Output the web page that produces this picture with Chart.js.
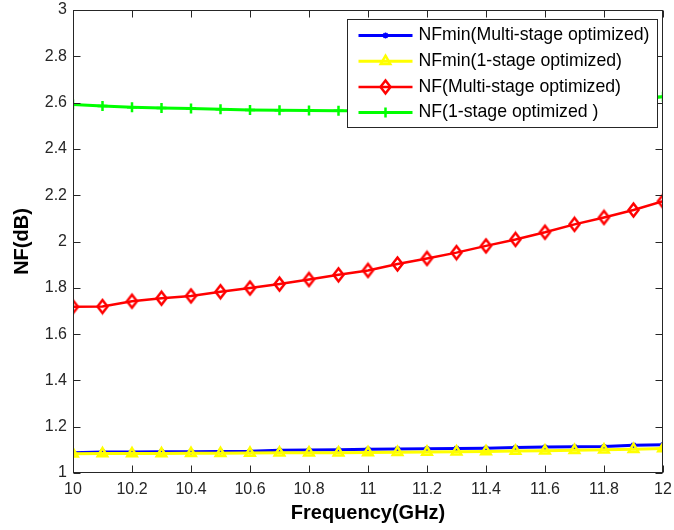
<!DOCTYPE html>
<html>
<head>
<meta charset="utf-8">
<title>NF vs Frequency</title>
<script src="https://cdn.jsdelivr.net/npm/chart.js@4.4.0/dist/chart.umd.min.js"></script>
<style>
  body { margin: 0; background: #fff; }
  #wrap { width: 674px; height: 530px; }
</style>
</head>
<body>
<div id="wrap"><canvas id="nfChart" width="674" height="530"></canvas></div>
<script>
const freqGHz = [10, 10.1, 10.2, 10.3, 10.4, 10.5, 10.6, 10.7, 10.8, 10.9, 11,
                 11.1, 11.2, 11.3, 11.4, 11.5, 11.6, 11.7, 11.8, 11.9, 12];
const nfminMulti = [1.087, 1.091, 1.091, 1.092, 1.092, 1.093, 1.094, 1.098, 1.099, 1.100, 1.103,
                    1.104, 1.105, 1.106, 1.107, 1.110, 1.112, 1.113, 1.114, 1.120, 1.122];
const nfminSingle = [1.083, 1.084, 1.084, 1.084, 1.085, 1.085, 1.086, 1.087, 1.088, 1.088, 1.089,
                     1.090, 1.091, 1.092, 1.093, 1.095, 1.096, 1.098, 1.100, 1.103, 1.106];
const nfMulti = [1.718, 1.719, 1.742, 1.755, 1.765, 1.783, 1.799, 1.816, 1.836, 1.856, 1.875,
                 1.903, 1.927, 1.952, 1.981, 2.009, 2.040, 2.074, 2.104, 2.136, 2.174];
const nfSingle = [2.592, 2.585, 2.580, 2.577, 2.575, 2.571, 2.568, 2.567, 2.566, 2.565, 2.565,
                  2.565, 2.566, 2.567, 2.569, 2.572, 2.577, 2.585, 2.595, 2.610, 2.625];
const xTickValues = [10, 10.2, 10.4, 10.6, 10.8, 11, 11.2, 11.4, 11.6, 11.8, 12];
const yTickValues = [1, 1.2, 1.4, 1.6, 1.8, 2, 2.2, 2.4, 2.6, 2.8, 3];

const fontFamily = '"Liberation Sans", Arial, sans-serif';

function toPoints(ys) {
  return ys.map((y, i) => ({ x: freqGHz[i], y: y }));
}

// matlab's diamond marker is taller than wide, so make it as a small canvas
function makeDiamond(color, w, h, lw) {
  const c = document.createElement('canvas');
  c.width = Math.ceil(w + lw * 2);
  c.height = Math.ceil(h + lw * 2);
  const g = c.getContext('2d');
  const cx = c.width / 2, cy = c.height / 2;
  g.strokeStyle = color;
  g.lineWidth = lw;
  g.lineJoin = 'miter';
  g.beginPath();
  g.moveTo(cx, cy - h / 2);
  g.lineTo(cx + w / 2, cy);
  g.lineTo(cx, cy + h / 2);
  g.lineTo(cx - w / 2, cy);
  g.closePath();
  g.stroke();
  return c;
}
const redDiamond = makeDiamond('#ff0000', 10, 13, 2.5);

// box round the plot with inward ticks on all four sides (matlab style)
const matlabFrame = {
  id: 'matlabFrame',
  afterDatasetsDraw(chart) {
    const { ctx, chartArea: a, scales } = chart;
    const tick = 7;
    const l = Math.round(a.left) + 0.5, r = Math.round(a.right) - 0.5;
    const t = Math.round(a.top) + 0.5, b = Math.round(a.bottom) - 0.5;
    ctx.save();
    ctx.strokeStyle = '#262626';
    ctx.lineWidth = 1;
    ctx.beginPath();
    scales.x.ticks.forEach(tk => {
      const px = Math.round(scales.x.getPixelForValue(tk.value)) + 0.5;
      ctx.moveTo(px, b); ctx.lineTo(px, b - tick);
      ctx.moveTo(px, t); ctx.lineTo(px, t + tick);
    });
    scales.y.ticks.forEach(tk => {
      const py = Math.round(scales.y.getPixelForValue(tk.value)) + 0.5;
      ctx.moveTo(l, py); ctx.lineTo(l + tick, py);
      ctx.moveTo(r, py); ctx.lineTo(r - tick, py);
    });
    ctx.stroke();
    ctx.strokeRect(l, t, r - l, b - t);
    ctx.restore();
  }
};

// legend box inside the plot, drawn over the lines
const boxLegend = {
  id: 'boxLegend',
  afterDraw(chart) {
    const { ctx, chartArea: a } = chart;
    const sets = chart.data.datasets;
    const w = 310, h = 108, rowH = 25.7;
    const x0 = Math.round(a.right - 6 - w) + 0.5, y0 = Math.round(a.top + 9) + 0.5;
    ctx.save();
    ctx.fillStyle = '#fff';
    ctx.fillRect(x0, y0, w, h);
    ctx.strokeStyle = '#262626';
    ctx.lineWidth = 1;
    ctx.strokeRect(x0, y0, w, h);
    ctx.font = '17.7px ' + fontFamily;
    ctx.textBaseline = 'middle';
    ctx.textAlign = 'left';
    sets.forEach((ds, i) => {
      const cy = y0 + 16 + i * rowH;
      ctx.strokeStyle = ds.borderColor;
      ctx.lineWidth = ds.borderWidth;
      ctx.beginPath();
      ctx.moveTo(x0 + 11, cy);
      ctx.lineTo(x0 + 65, cy);
      ctx.stroke();
      if (Chart.helpers && Chart.helpers.drawPoint) {
        ctx.fillStyle = ds.pointBackgroundColor;
        ctx.lineWidth = ds.pointBorderWidth;
        Chart.helpers.drawPoint(ctx, {
          pointStyle: ds.pointStyle, radius: ds.pointRadius,
          borderWidth: ds.pointBorderWidth, rotation: 0
        }, x0 + 38, cy);
      }
      ctx.fillStyle = '#000';
      ctx.fillText(ds.label, x0 + 71, cy);
    });
    ctx.restore();
  }
};

const ctx = document.getElementById('nfChart').getContext('2d');
const nfChart = new Chart(ctx, {
  type: 'line',
  data: {
    datasets: [
      {
        label: 'NFmin(Multi-stage optimized)',
        data: toPoints(nfminMulti),
        borderColor: '#0000ff',
        borderWidth: 3,
        pointStyle: 'star',
        pointRadius: 3,
        pointBorderWidth: 1.5,
        pointBackgroundColor: '#0000ff',
        order: 4
      },
      {
        label: 'NFmin(1-stage optimized)',
        data: toPoints(nfminSingle),
        borderColor: '#ffff00',
        borderWidth: 3,
        pointStyle: 'triangle',
        pointRadius: 5.5,
        pointBorderWidth: 2.5,
        pointBackgroundColor: 'rgba(0,0,0,0)',
        order: 3
      },
      {
        label: 'NF(Multi-stage optimized)',
        data: toPoints(nfMulti),
        borderColor: '#ff0000',
        borderWidth: 2.5,
        pointStyle: redDiamond,
        pointRadius: 6.5,
        pointBorderWidth: 2.5,
        pointBackgroundColor: 'rgba(0,0,0,0)',
        order: 2
      },
      {
        label: 'NF(1-stage optimized )',
        data: toPoints(nfSingle),
        borderColor: '#00ff00',
        borderWidth: 3,
        pointStyle: 'cross',
        pointRadius: 5,
        pointBorderWidth: 2.5,
        pointBackgroundColor: '#00ff00',
        order: 1
      }
    ]
  },
  options: {
    responsive: false,
    animation: false,
    devicePixelRatio: 1,
    layout: { padding: { left: 0, top: 10, right: 11, bottom: 0 } },
    plugins: {
      legend: { display: false },
      tooltip: { enabled: false }
    },
    scales: {
      x: {
        type: 'linear',
        min: 10,
        max: 12,
        afterBuildTicks: s => { s.ticks = xTickValues.map(v => ({ value: v })); },
        afterFit: s => { s.height = 57; s.paddingLeft = 0; s.paddingRight = 0; },
        grid: { display: false, drawTicks: false },
        border: { display: false },
        ticks: {
          padding: 7,
          maxRotation: 0,
          autoSkip: false,
          color: '#262626',
          font: { family: fontFamily, size: 16 },
          callback: v => String(+v.toFixed(1))
        },
        title: {
          display: true,
          text: 'Frequency(GHz)',
          color: '#000',
          font: { family: fontFamily, size: 20, weight: 'bold' },
          padding: { top: 0, bottom: 5 }
        }
      },
      y: {
        type: 'linear',
        min: 1,
        max: 3,
        afterBuildTicks: s => { s.ticks = yTickValues.map(v => ({ value: v })); },
        afterFit: s => { s.width = 73; s.paddingTop = 0; s.paddingBottom = 0; },
        grid: { display: false, drawTicks: false },
        border: { display: false },
        ticks: {
          padding: 6,
          color: '#262626',
          font: { family: fontFamily, size: 16 },
          callback: v => String(+v.toFixed(1))
        },
        title: {
          display: true,
          text: 'NF(dB)',
          color: '#000',
          font: { family: fontFamily, size: 20, weight: 'bold' },
          padding: { top: 10, bottom: 0 }
        }
      }
    }
  },
  plugins: [matlabFrame, boxLegend]
});
</script>
</body>
</html>
